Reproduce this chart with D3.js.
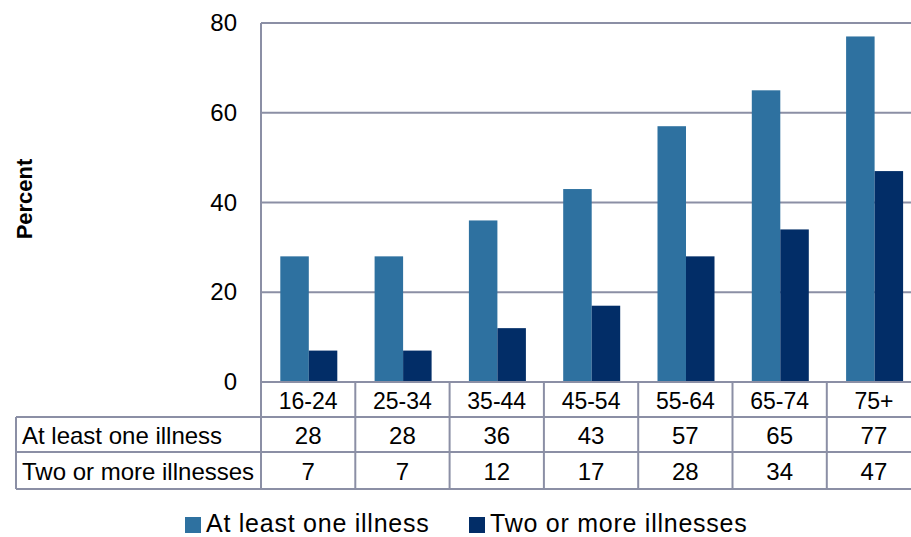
<!DOCTYPE html>
<html>
<head>
<meta charset="utf-8">
<script src="https://cdn.jsdelivr.net/npm/d3@7"></script>
<style>
  html, body { margin: 0; padding: 0; background: #fff; }
  svg { display: block; font-family: "Liberation Sans", Arial, sans-serif; }
</style>
</head>
<body>
<svg id="chart" width="911" height="537"></svg>
<script>
// Share of people reporting long-standing illness, by age group
const categories = ["16-24", "25-34", "35-44", "45-54", "55-64", "65-74", "75+"];
const seriesNames = ["At least one illness", "Two or more illnesses"];
const atLeastOne = [28, 28, 36, 43, 57, 65, 77];
const twoOrMore = [7, 7, 12, 17, 28, 34, 47];
const yTicks = [0, 20, 40, 60, 80];

const colors = ["#2e71a0", "#022d67"];
const gridColor = "#8b8fa5";

const svg = d3.select("#chart");

const plotLeft = 261, plotTop = 23, plotBottom = 382;
const colW = 94.3;
const plotRight = plotLeft + colW * categories.length;
const tableLeft = 16;
const rowH = [35, 35, 37];   // header row, then one row per series

const x = d3.scaleBand().domain(categories).range([plotLeft, plotRight]).padding(0);
const xs = d3.scaleBand().domain(seriesNames).range([19.3, 76.3]).padding(0);
const y = d3.scaleLinear().domain([0, 80]).range([plotBottom, plotTop]);

// gridlines
svg.append("g")
  .selectAll("line").data(yTicks).join("line")
  .attr("x1", plotLeft).attr("x2", plotRight)
  .attr("y1", d => y(d)).attr("y2", d => y(d))
  .attr("stroke", gridColor).attr("stroke-width", 2);

// y axis labels
const yAxis = d3.axisLeft(y).tickValues(yTicks).tickSize(0).tickPadding(0);
const gy = svg.append("g").attr("transform", `translate(${plotLeft - 24},0)`).call(yAxis);
gy.select(".domain").remove();
gy.selectAll("text")
  .attr("font-size", 24).attr("fill", "#000")
  .attr("font-family", "Liberation Sans, Arial, sans-serif");

// bars
const seriesData = [atLeastOne, twoOrMore];
seriesData.forEach((vals, si) => {
  svg.append("g").selectAll("rect").data(vals).join("rect")
    .attr("x", (d, i) => x(categories[i]) + xs(seriesNames[si]))
    .attr("width", xs.bandwidth())
    .attr("y", d => y(d))
    .attr("height", d => y(0) - y(d))
    .attr("fill", colors[si]);
});

// data table below the axis
const rowY = [plotBottom, plotBottom + rowH[0], plotBottom + rowH[0] + rowH[1], plotBottom + rowH[0] + rowH[1] + rowH[2]];
const tbl = svg.append("g");

// horizontal rules
tbl.append("line").attr("x1", plotLeft).attr("x2", plotRight)
  .attr("y1", rowY[0]).attr("y2", rowY[0]);
[1, 2, 3].forEach(r => {
  tbl.append("line").attr("x1", tableLeft).attr("x2", plotRight)
    .attr("y1", rowY[r]).attr("y2", rowY[r]);
});
// vertical rules
tbl.append("line").attr("x1", tableLeft).attr("x2", tableLeft)
  .attr("y1", rowY[1]).attr("y2", rowY[3]);
tbl.append("line").attr("x1", plotLeft).attr("x2", plotLeft)
  .attr("y1", plotTop).attr("y2", rowY[3]);
categories.forEach(c => {
  tbl.append("line").attr("x1", x(c) + x.bandwidth()).attr("x2", x(c) + x.bandwidth())
    .attr("y1", rowY[0]).attr("y2", rowY[3]);
});
tbl.selectAll("line").attr("stroke", gridColor).attr("stroke-width", 2);

// category header
tbl.append("g").selectAll("text").data(categories).join("text")
  .attr("x", d => x(d) + x.bandwidth() / 2)
  .attr("y", (rowY[0] + rowY[1]) / 2 + 1)
  .attr("text-anchor", "middle").attr("dominant-baseline", "central")
  .attr("font-size", 23).text(d => d);

// series rows
seriesData.forEach((vals, si) => {
  const cy = (rowY[si + 1] + rowY[si + 2]) / 2 + 1;
  tbl.append("text")
    .attr("x", tableLeft + 6).attr("y", cy)
    .attr("dominant-baseline", "central")
    .attr("font-size", 24).text(seriesNames[si]);
  tbl.append("g").selectAll("text").data(vals).join("text")
    .attr("x", (d, i) => x(categories[i]) + x.bandwidth() / 2)
    .attr("y", cy)
    .attr("text-anchor", "middle").attr("dominant-baseline", "central")
    .attr("font-size", 24).text(d => d);
});

// y axis title
svg.append("text")
  .attr("transform", "translate(32,199) rotate(-90)")
  .attr("text-anchor", "middle")
  .attr("font-size", 22).attr("font-weight", "bold")
  .text("Percent");

// legend
const legend = svg.append("g");
const legendX = [185, 469];
seriesNames.forEach((name, si) => {
  legend.append("rect")
    .attr("x", legendX[si]).attr("y", 517)
    .attr("width", 16).attr("height", 16)
    .attr("fill", colors[si]);
  legend.append("text")
    .attr("x", legendX[si] + 21).attr("y", 532)
    .attr("font-size", 25).attr("letter-spacing", 0.75)
    .text(name);
});
</script>
</body>
</html>
